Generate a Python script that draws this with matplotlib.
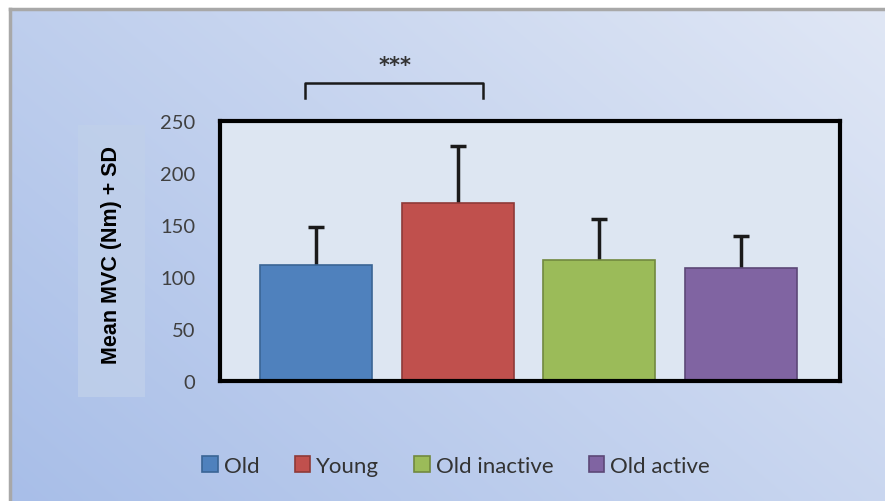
import numpy as np
import matplotlib.pyplot as plt
from matplotlib.patches import Rectangle, Patch
from matplotlib.lines import Line2D

# data
groups = ["Old", "Young", "Old inactive", "Old active"]
means = [112, 171, 116, 109]
sds = [36, 55, 40, 30]
colors = ["#4f81bd", "#c0504d", "#9bbb59", "#8064a2"]
edges = ["#3a6595", "#8e3a38", "#71893f", "#5c4877"]
yticks = [0, 50, 100, 150, 200, 250]

fig = plt.figure(figsize=(8.85, 5.02), dpi=100)
fig.patch.set_facecolor("white")

# gradient background of the chart area
bg = fig.add_axes([0, 0, 1, 1], zorder=-10)
bg.set_axis_off()
nx, ny = 200, 120
xx, yy = np.meshgrid(np.linspace(0, 1, nx), np.linspace(0, 1, ny))
t = (xx * 0.6 + yy * 0.4)
c0 = np.array([168, 190, 232]) / 255
c1 = np.array([224, 231, 245]) / 255
img = c0[None, None, :] * (1 - t[..., None]) + c1[None, None, :] * t[..., None]
bg.imshow(img, origin="lower", extent=[10 / 885, 1, 0, 1 - 10 / 502],
          aspect="auto", interpolation="bilinear")
bg.set_xlim(0, 1)
bg.set_ylim(0, 1)
bg.add_line(Line2D([10 / 885, 10 / 885], [0, 1 - 10 / 502], color="#a8a8a8", lw=2.5))
bg.add_line(Line2D([10 / 885, 1], [1 - 10 / 502, 1 - 10 / 502], color="#a8a8a8", lw=2.5))
# box behind the y label
bg.add_patch(Rectangle((78 / 885, 1 - 398 / 502), 67 / 885, 272 / 502,
                       facecolor="#c0d0ea", edgecolor="none", alpha=0.8))

ax = fig.add_axes([220 / 885, 1 - 382 / 502, 620 / 885, 260 / 502])
ax.set_facecolor("#dde6f2")
x = np.arange(len(groups))
# symmetric error bars drawn behind the bars, so only the upper half shows
ax.errorbar(x, means, yerr=sds, fmt="none", ecolor="#1a1a1a",
            elinewidth=2.5, capsize=6, capthick=2.5, zorder=1)
ax.bar(x, means, width=0.79, color=colors, edgecolor=edges, linewidth=1.2, zorder=2)
ax.set_xlim(-0.68, 3.70)
ax.set_ylim(0, 250)
ax.set_yticks(yticks)
ax.set_xticks([])
ax.tick_params(axis="y", length=0, pad=18, labelsize=14.5, labelcolor="#404040")
for lab in ax.get_yticklabels():
    lab.set_family("Lato")
for s in ax.spines.values():
    s.set_linewidth(3)
    s.set_color("black")
    s.set_zorder(4)

# significance bracket
bx = [-0.08, -0.08, 1.18, 1.18]
by = [272, 287, 287, 272]
ax.plot(bx, by, color="#1a1a1a", lw=1.8, clip_on=False)
ax.text(0.56, 294, "***", ha="center", va="bottom", fontsize=15, color="#333333",
        fontweight="bold", clip_on=False)

fig.text(112 / 885, 1 - 255 / 502, "Mean MVC (Nm) + SD", rotation=90, ha="center",
         va="center", fontsize=15.5, fontweight="bold", family="Liberation Sans")

handles = [Patch(facecolor=c, edgecolor=e, linewidth=1.2) for c, e in zip(colors, edges)]
leg = fig.legend(handles, groups, loc="center", bbox_to_anchor=(456 / 885, 1 - 467 / 502),
                 ncol=4, frameon=False, handlelength=0.7, handleheight=0.7,
                 handletextpad=0.25, columnspacing=1.6,
                 prop={"family": "Lato", "size": 16})
for txt in leg.get_texts():
    txt.set_color("#333333")

fig.savefig("out.png", dpi=100)
